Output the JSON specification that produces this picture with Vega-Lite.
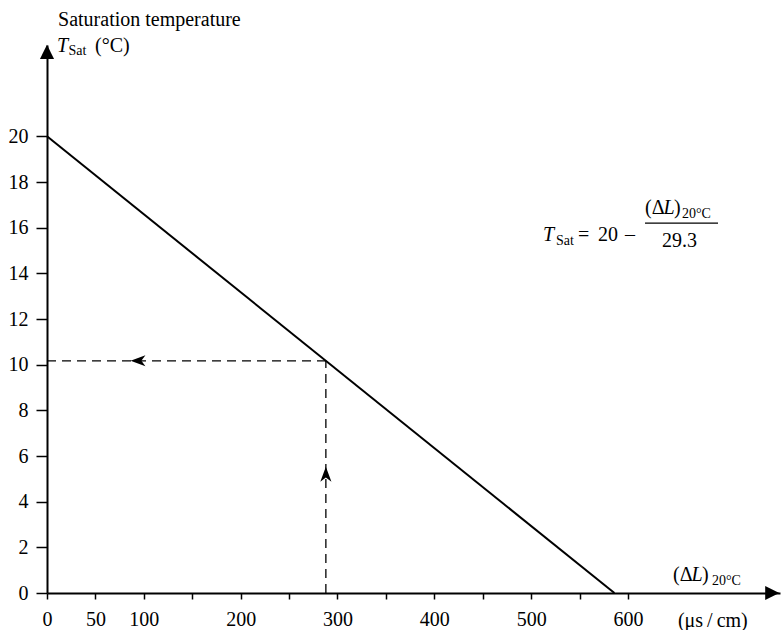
{
  "$schema": "https://vega.github.io/schema/vega-lite/v6.json",
  "autosize": "none",
  "width": 733,
  "height": 548,
  "padding": {"left": 47, "top": 45, "right": 3, "bottom": 37},
  "background": "white",
  "config": {
    "view": {"stroke": null},
    "font": "Liberation Serif",
    "axis": {"grid": false, "domainColor": "black", "domainWidth": 2, "tickColor": "black", "tickWidth": 1.5, "labelColor": "black", "labelFont": "Liberation Serif", "labelFontSize": 20, "labelOverlap": false, "labelFlush": false, "title": null},
    "text": {"font": "Liberation Serif", "fontSize": 20, "color": "black", "align": "left", "baseline": "middle"}
  },
  "datasets": {
    "line": [{"dl": 0, "t": 20}, {"dl": 586, "t": 0}],
    "dash": [
      {"seg": "v", "dl": 288, "t": 0}, {"seg": "v", "dl": 288, "t": 10.17},
      {"seg": "h", "dl": 0, "t": 10.17}, {"seg": "h", "dl": 288, "t": 10.17}
    ],
    "arrowLeft": [{"dl": 94, "t": 10.17}],
    "arrowUp": [{"dl": 288, "t": 5.2}],
    "axisArrowUp": [{"dl": 0, "t": 23.7}],
    "axisArrowRight": [{"dl": 749, "t": 0}],
    "roman": [
      {"dl": 11.4, "t": 25.1, "s": "Saturation temperature"},
      {"dl": 49.6, "t": 23.96, "s": "(°C)"},
      {"dl": 548.4, "t": 15.68, "s": "="},
      {"dl": 569, "t": 15.68, "s": "20"},
      {"dl": 596.9, "t": 15.68, "s": "–"},
      {"dl": 617.6, "t": 16.86, "s": "(Δ"},
      {"dl": 647.5, "t": 16.86, "s": ")"},
      {"dl": 635.1, "t": 15.42, "s": "29.3"},
      {"dl": 646.5, "t": 0.79, "s": "(Δ"},
      {"dl": 676.5, "t": 0.79, "s": ")"},
      {"dl": 651.6, "t": -1.23, "s": "(μs\u2009/\u2009cm)"}
    ],
    "italic": [
      {"dl": 10.3, "t": 23.96, "s": "T"},
      {"dl": 512.2, "t": 15.68, "s": "T"},
      {"dl": 636.6, "t": 16.86, "s": "L"},
      {"dl": 665.6, "t": 0.79, "s": "L"}
    ],
    "sub": [
      {"dl": 22.2, "t": 23.74, "s": "Sat"},
      {"dl": 525.7, "t": 15.42, "s": "Sat"},
      {"dl": 655.8, "t": 16.6, "s": "20°C"},
      {"dl": 686.7, "t": 0.53, "s": "20°C"}
    ],
    "bar": [{"dl": 617.6, "dl2": 693, "t": 16.2}]
  },
  "layer": [
    {
      "data": {"name": "line"},
      "mark": {"type": "line", "color": "black", "strokeWidth": 2, "clip": false},
      "encoding": {
        "x": {"field": "dl", "type": "quantitative", "scale": {"domain": [0, 757], "nice": false, "zero": false},
          "axis": {"values": [0, 50, 100, 150, 200, 250, 300, 350, 400, 450, 500, 550, 600], "tickSize": 6, "labelPadding": 10,
            "labelExpr": "indexof([150,250,350,450,550], datum.value) >= 0 ? '' : datum.label"}},
        "y": {"field": "t", "type": "quantitative", "scale": {"domain": [0, 24], "nice": false, "zero": false},
          "axis": {"values": [0, 2, 4, 6, 8, 10, 12, 14, 16, 18, 20], "tickSize": 11, "labelPadding": 8}}
      }
    },
    {
      "data": {"name": "dash"},
      "mark": {"type": "line", "color": "black", "strokeWidth": 1.3, "strokeDash": [9, 6]},
      "encoding": {
        "x": {"field": "dl", "type": "quantitative"},
        "y": {"field": "t", "type": "quantitative"},
        "detail": {"field": "seg"}
      }
    },
    {
      "data": {"name": "arrowLeft"},
      "mark": {"type": "point", "shape": "M-1,0L1,-0.75L0.45,0L1,0.75Z", "size": 220, "filled": true, "color": "black", "opacity": 1},
      "encoding": {"x": {"field": "dl", "type": "quantitative"}, "y": {"field": "t", "type": "quantitative"}}
    },
    {
      "data": {"name": "arrowUp"},
      "mark": {"type": "point", "shape": "M0,-1L-0.75,1L0,0.45L0.75,1Z", "size": 220, "filled": true, "color": "black", "opacity": 1},
      "encoding": {"x": {"field": "dl", "type": "quantitative"}, "y": {"field": "t", "type": "quantitative"}}
    },
    {
      "data": {"name": "axisArrowUp"},
      "mark": {"type": "point", "shape": "M0,-1L-1,1L1,1Z", "size": 200, "filled": true, "color": "black", "opacity": 1, "clip": false},
      "encoding": {"x": {"field": "dl", "type": "quantitative"}, "y": {"field": "t", "type": "quantitative"}}
    },
    {
      "data": {"name": "axisArrowRight"},
      "mark": {"type": "point", "shape": "M1,0L-1,-1L-1,1Z", "size": 200, "filled": true, "color": "black", "opacity": 1, "clip": false},
      "encoding": {"x": {"field": "dl", "type": "quantitative"}, "y": {"field": "t", "type": "quantitative"}}
    },
    {
      "data": {"name": "bar"},
      "mark": {"type": "rule", "color": "black", "strokeWidth": 1.2},
      "encoding": {"x": {"field": "dl", "type": "quantitative"}, "x2": {"field": "dl2"}, "y": {"field": "t", "type": "quantitative"}}
    },
    {
      "data": {"name": "roman"},
      "mark": {"type": "text"},
      "encoding": {"x": {"field": "dl", "type": "quantitative"}, "y": {"field": "t", "type": "quantitative"}, "text": {"field": "s"}}
    },
    {
      "data": {"name": "italic"},
      "mark": {"type": "text", "fontStyle": "italic"},
      "encoding": {"x": {"field": "dl", "type": "quantitative"}, "y": {"field": "t", "type": "quantitative"}, "text": {"field": "s"}}
    },
    {
      "data": {"name": "sub"},
      "mark": {"type": "text", "fontSize": 14},
      "encoding": {"x": {"field": "dl", "type": "quantitative"}, "y": {"field": "t", "type": "quantitative"}, "text": {"field": "s"}}
    }
  ]
}
